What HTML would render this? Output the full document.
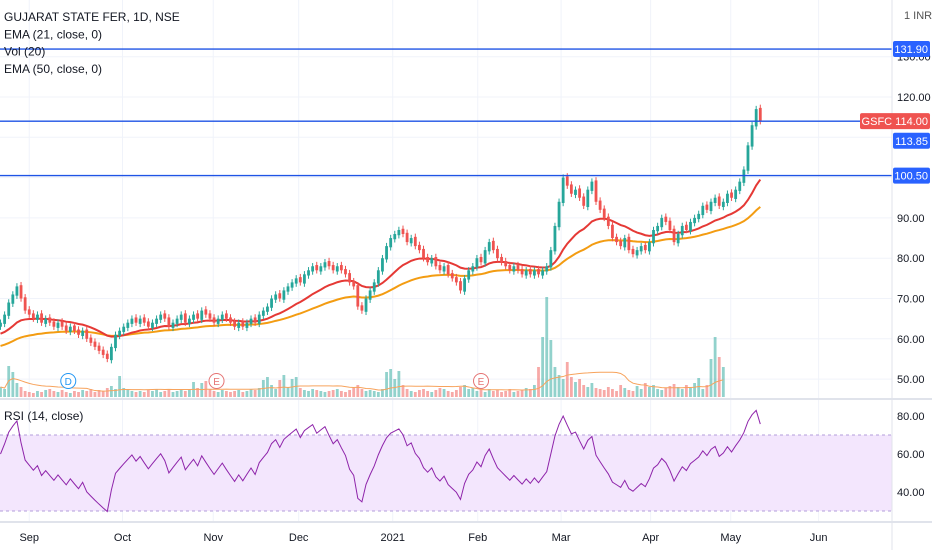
<!DOCTYPE html>
<html><head><meta charset="utf-8"><style>
body{margin:0;width:932px;height:550px;overflow:hidden;background:#fff;font-family:"Liberation Sans",sans-serif}
svg text{font-family:"Liberation Sans",sans-serif}
</style></head><body>
<svg id="c" width="932" height="550" xmlns="http://www.w3.org/2000/svg"></svg>
<script>
const closes=[64,66,69,71,73,70,67,66,65,66,64,65,64,63,64,63,62,63,62,61,62,60,59,58,57,56,55,58,61,62,63,64,65,64,
65,64,63,64,65,66,65,63,64,65,66,64,65,66,65,67,66,65,64,65,66,65,64,63,64,63,64,65,64,
66,67,68,70,71,70,72,73,74,75,74,76,77,78,77,78,79,78,77,78,77,76,74,73,68,67,70,72,
74,77,80,83,85,86,87,86,84,85,83,82,80,79,80,78,77,78,76,75,74,72,75,77,78,
80,79,82,84,82,80,79,78,77,78,77,76,77,76,77,76,77,78,82,88,94,100,98,96,97,95,
93,97,99,94,92,90,88,85,84,83,85,82,81,82,83,82,84,87,88,90,89,87,84,86,88,87,89,
90,91,93,92,94,95,93,94,96,95,97,99,102,108,113,117,114];
const volumes=[10,8,31,25,14,10,6,5,4,6,5,7,8,6,5,7,5,4,6,5,7,6,8,5,7,6,9,11,8,21,9,7,6,5,
6,5,7,6,8,5,6,7,5,6,8,6,7,15,9,14,16,8,6,5,7,6,5,6,7,5,6,8,7,
9,17,20,12,8,17,22,10,18,20,9,7,6,8,7,6,5,6,7,8,6,5,7,9,12,8,6,7,
6,5,8,25,28,18,26,12,8,6,5,7,8,6,5,7,9,8,6,5,7,10,12,8,9,
6,7,5,8,6,7,5,6,8,5,6,7,9,8,12,30,60,100,57,30,22,18,35,20,
15,18,12,10,14,9,8,7,10,8,6,12,9,7,6,11,8,14,10,12,8,7,9,11,13,
10,8,12,9,14,19,8,12,38,60,40,30];
const monthLabels=["Sep","Oct","Nov","Dec","2021","Feb","Mar","Apr","May","Jun"];
const monthIdx=[7,29.7,51.8,72.6,95.5,116.2,136.5,158.3,177.8,199.2];
const priceTicks=[50,60,70,80,90,120];
const rsiTicks=[40,60,80];
const levels=[131.9,114.0,100.5];
const markerIdx=[16.5,52.6,117];
const markerText=["D","E","E"];

const NS="http://www.w3.org/2000/svg",svg=document.getElementById('c');
function el(t,a,p){const e=document.createElementNS(NS,t);for(const k in a)e.setAttribute(k,a[k]);(p||svg).appendChild(e);return e;}
const X=i=>i*4.107+0.5;
const Y=p=>97+(120-p)*4.03;
const RY=r=>435+(70-r)*1.9;
const AX=892;
priceTicks.concat([100,110,130]).forEach(p=>{const g=el('line',{x1:0,x2:AX,y1:Y(p),y2:Y(p),stroke:'#f0f3fa'});});
monthIdx.forEach(i=>{const g=el('line',{x1:X(i),x2:X(i),y1:0,y2:521,stroke:'#f0f3fa'});});
volumes.forEach((v,i)=>{const o=i?closes[i-1]:closes[0],up=closes[i]>=o;
 const r=el('rect',{x:X(i)-1.4,y:397-v,width:2.8,height:v,fill:up?'rgba(38,166,154,0.5)':'rgba(239,83,80,0.5)'});
 });
let vma=[];volumes.forEach((v,i)=>{const s=volumes.slice(Math.max(0,i-19),i+1);vma.push(s.reduce((a,b)=>a+b,0)/s.length);});
const vl=el('polyline',{points:vma.map((v,i)=>X(i)+','+(397-v)).join(' '),fill:'none',stroke:'#f7a35c','stroke-width':1});

function ema(n,seed){const k=2/(n+1);let e=seed,out=[];closes.forEach(c=>{e=c*k+e*(1-k);out.push(e);});return out;}
const e50=ema(50,58),e21=ema(21,61);
const l50=el('polyline',{points:e50.map((v,i)=>X(i)+','+Y(v)).join(' '),fill:'none',stroke:'#f39c12','stroke-width':2});

const l21=el('polyline',{points:e21.map((v,i)=>X(i)+','+Y(v)).join(' '),fill:'none',stroke:'#e53935','stroke-width':2});

closes.forEach((c,i)=>{const o=i?closes[i-1]+(c>closes[i-1]?-0.3:0.3):c-1,up=c>=o,col=up?'#26a69a':'#ef5350';
 const hi=Math.max(o,c)+0.8,lo=Math.min(o,c)-0.8;
 const w=el('line',{x1:X(i),x2:X(i),y1:Y(hi),y2:Y(lo),stroke:col,'stroke-width':1});
 
 const b=el('rect',{x:X(i)-1.4,y:Y(Math.max(o,c)),width:2.8,height:Math.max(1,Math.abs(Y(o)-Y(c))),fill:col});
 });
levels.forEach(p=>{const l=el('line',{x1:0,x2:AX,y1:Y(p),y2:Y(p),stroke:'#1e53e5','stroke-width':1.3});});
markerIdx.forEach((m,i)=>{const col=markerText[i]=='D'?'#2196f3':'#e57373';
 const g=el('g',{});
 el('circle',{cx:X(m),cy:381,r:7.5,fill:'#fff',stroke:col,'stroke-width':1},g);
 const t=el('text',{x:X(m),y:385,'text-anchor':'middle','font-size':10,fill:col},g);t.textContent=markerText[i];});
el('line',{x1:0,x2:932,y1:399,y2:399,stroke:'#e0e3eb','stroke-width':2});
const band=el('rect',{x:0,y:RY(70),width:AX,height:RY(30)-RY(70),fill:'#f3e6fd'});
[70,30].forEach(r=>el('line',{x1:0,x2:AX,y1:RY(r),y2:RY(r),stroke:'#b39ddb','stroke-dasharray':'3 3'}));
let ag=0,al=0,rsi=[];closes.forEach((c,i)=>{if(i==0){ag=0.6;al=0.4;rsi.push(60);return;}const d=c-closes[i-1];ag=(ag*13+Math.max(d,0))/14;al=(al*13+Math.max(-d,0))/14;rsi.push(100-100/(1+ag/al));});
const rl=el('polyline',{points:rsi.map((v,i)=>X(i)+','+RY(v)).join(' '),fill:'none',stroke:'#8e24aa','stroke-width':1});

el('line',{x1:0,x2:932,y1:522,y2:522,stroke:'#e0e3eb','stroke-width':2});
el('line',{x1:AX,x2:AX,y1:0,y2:550,stroke:'#e0e3eb'});
priceTicks.concat([130]).forEach(p=>{const t=el('text',{x:897,y:Y(p)+4,'font-size':11,fill:'#131722'});t.textContent=p.toFixed(2);});
rsiTicks.forEach(r=>{const t=el('text',{x:897,y:RY(r)+4,'font-size':11,fill:'#131722'});t.textContent=r.toFixed(2);});
monthLabels.forEach((m,i)=>{const t=el('text',{x:X(monthIdx[i]),y:541,'text-anchor':'middle','font-size':11,fill:'#131722'});t.textContent=m;});
const cur=el('text',{x:904,y:19,'font-size':11,fill:'#555'});cur.textContent='1 INR';
function tag(y,txt,col,x){const g=el('g',{});
 el('rect',{x:x,y:y-8,width:932-x-2,height:16,rx:2,fill:col},g);const t=el('text',{x:928,y:y+4,'text-anchor':'end','font-size':11,fill:'#fff'},g);t.textContent=txt;}
tag(Y(131.9),'131.90','#2962ff',893);
tag(Y(114),'GSFC  114.00','#ef5350',860);
tag(Y(113.85)+19,'113.85','#2962ff',893);
tag(Y(100.5),'100.50','#2962ff',893);
["GUJARAT STATE FER, 1D, NSE","EMA (21, close, 0)","Vol (20)","EMA (50, close, 0)"].forEach((s,i)=>{const t=el('text',{x:4,y:21+i*17.3,'font-size':12,fill:'#131722'});t.textContent=s;});
const rt=el('text',{x:4,y:420,'font-size':12,fill:'#131722'});rt.textContent='RSI (14, close)';
</script>
</body></html>
